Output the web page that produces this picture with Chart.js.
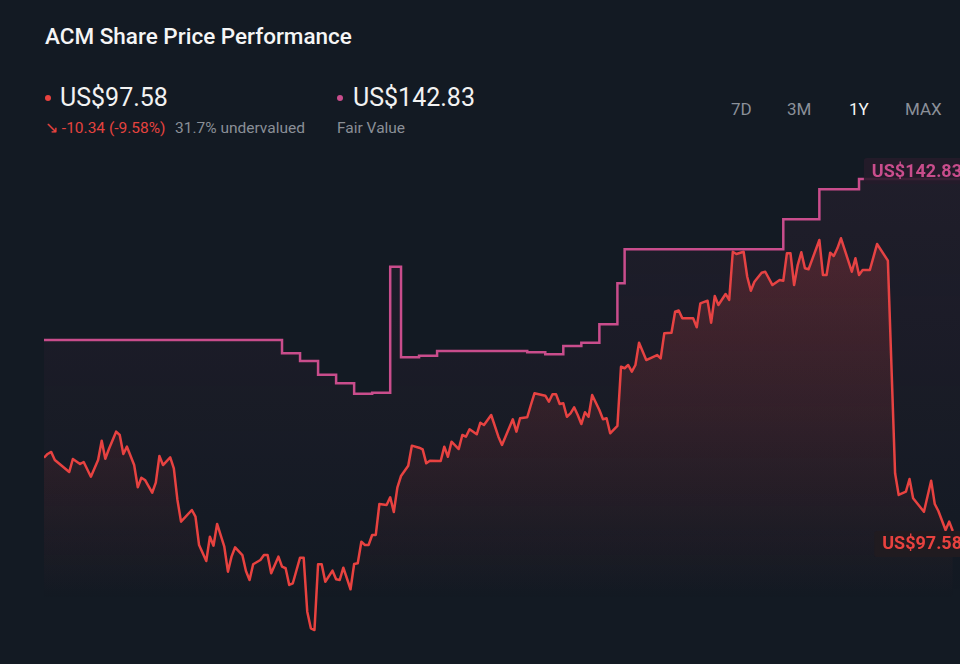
<!DOCTYPE html>
<html>
<head>
<meta charset="utf-8">
<title>ACM Share Price Performance</title>
<script src="https://cdn.jsdelivr.net/npm/chart.js@4.4.1/dist/chart.umd.min.js"></script>
<style>
  html, body { margin: 0; padding: 0; }
  body {
    width: 960px; height: 664px; overflow: hidden; position: relative;
    background: #131a23; font-family: Roboto, "Noto Sans", sans-serif; color: #f2f2f2;
  }
  .abs { position: absolute; white-space: nowrap; }
  .title { left: 45px; top: 23px; font-size: 22.5px; font-weight: 500; color: #f5f5f5; }
  .big { top: 83px; font-size: 25px; color: #f2f2f2; }
  .dot { width: 6px; height: 6px; border-radius: 50%; top: 95px; }
  .sub { top: 119px; font-size: 15.5px; color: #8a8f97; }
  .range { top: 99px; font-size: 17px; color: #8b9099; }
  #wrap { position: absolute; left: 44px; top: 150px; width: 916px; height: 500px; }
</style>
</head>
<body>
<div class="abs title">ACM Share Price Performance</div>

<div class="abs dot" style="left:45px;background:#e8423f"></div>
<div class="abs big" style="left:60px">US$97.58</div>
<div class="abs sub" style="left:45px;color:#e5433f">&#8600; -10.34 (-9.58%)</div>
<div class="abs sub" style="left:175px">31.7% undervalued</div>

<div class="abs dot" style="left:337px;background:#c94d8c"></div>
<div class="abs big" style="left:353px">US$142.83</div>
<div class="abs sub" style="left:337px">Fair Value</div>

<div class="abs range" style="left:731px">7D</div>
<div class="abs range" style="left:787px">3M</div>
<div class="abs range" style="left:849px;color:#f5f5f5">1Y</div>
<div class="abs range" style="left:905px">MAX</div>

<div id="wrap"><canvas id="chart"></canvas></div>

<script>
// trading day index (0 = one year ago) and closing price, US$
const days = [
  0, 1, 2, 3, 7, 8, 10, 11, 13, 15, 16, 17, 18, 20, 21, 22, 23, 25, 26, 27,
  28, 30, 31, 32, 33, 35, 36, 37, 38, 41, 42, 43, 45, 46, 47, 48, 50, 51, 52, 53,
  55, 56, 57, 58, 60, 61, 62, 63, 65, 66, 67, 68, 69, 71, 72, 73, 74, 75, 76, 77,
  78, 80, 81, 82, 83, 85, 86, 87, 88, 89, 90, 91, 92, 93, 95, 96, 97, 98, 99, 101,
  102, 104, 105, 106, 107, 110, 111, 112, 113, 115, 116, 117, 118, 120, 121, 122, 124, 126, 127, 130,
  131, 132, 134, 135, 136, 139, 140, 141, 142, 143, 144, 145, 146, 147, 148, 149, 150, 151, 152, 154,
  155, 156, 157, 159, 160, 161, 162, 163, 164, 165, 167, 170, 171, 172, 174, 175, 176, 177, 180, 181,
  182, 184, 185, 186, 187, 189, 190, 191, 192, 194, 195, 196, 197, 199, 200, 202, 204, 205, 206, 207,
  208, 209, 210, 211, 212, 215, 216, 217, 218, 219, 220, 221, 224, 225, 226, 227, 229, 231, 234, 236,
  237, 239, 240, 241, 244, 246, 247, 248, 250, 251, 252
];
const prices = [
  107.00, 107.48, 107.74, 106.71, 105.16, 106.84, 106.19, 106.45, 104.56, 106.71,
  109.19, 106.87, 108.12, 110.35, 109.92, 107.48, 108.42, 106.06, 103.20, 104.43,
  104.14, 102.50, 103.79, 107.22, 106.06, 107.05, 105.64, 101.57, 98.78, 100.28,
  99.42, 95.78, 93.72, 96.85, 95.69, 98.48, 95.56, 92.35, 94.28, 95.48,
  94.49, 92.44, 91.28, 93.30, 93.85, 94.49, 94.49, 92.14, 94.28, 92.99,
  92.79, 90.64, 90.86, 94.15, 94.15, 87.21, 85.07, 84.85, 93.30, 93.30,
  91.06, 92.48, 91.37, 91.28, 92.86, 90.09, 93.34, 93.43, 96.20, 95.78,
  95.78, 97.07, 97.07, 101.05, 100.92, 101.91, 100.02, 103.20, 104.65, 105.97,
  108.55, 108.29, 108.08, 106.28, 106.62, 106.58, 108.42, 107.13, 109.06, 108.12,
  109.92, 109.70, 110.65, 110.01, 111.50, 111.21, 112.49, 109.70, 108.64, 111.94,
  110.35, 112.07, 112.20, 113.78, 115.28, 114.97, 114.20, 115.15, 115.15, 113.91,
  114.00, 112.27, 112.71, 113.48, 112.49, 111.33, 112.84, 112.27, 115.06, 113.13,
  111.94, 112.07, 110.14, 111.08, 118.70, 118.50, 118.92, 118.06, 118.92, 121.79,
  119.56, 120.20, 119.78, 122.99, 123.07, 125.77, 125.93, 124.92, 124.92, 123.77,
  126.85, 127.19, 124.36, 127.79, 126.63, 128.05, 127.28, 133.48, 133.19, 133.48,
  130.27, 128.47, 129.63, 130.78, 130.91, 129.20, 129.85, 129.76, 133.28, 133.28,
  129.20, 131.77, 133.41, 131.35, 131.22, 134.99, 130.49, 130.49, 133.36, 132.93,
  133.92, 135.21, 130.91, 132.64, 130.49, 131.13, 131.13, 134.47, 132.33, 105.00,
  102.21, 102.63, 104.26, 101.78, 100.06, 104.05, 101.05, 100.15, 97.71, 98.78,
  97.58
];

// fair value estimate: each value holds from its day until the next change
const fairDays = [0, 66, 71, 76, 81, 86, 91, 96, 99, 104, 109, 134, 139, 144, 149, 154, 159, 161, 205, 215, 226, 254];
const fairValues = [
  122.13, 120.42, 119.43, 117.67, 116.57, 115.23, 115.36, 131.56, 119.91, 120.11,
  120.72, 120.55, 120.29, 121.36, 121.79, 124.15, 129.42, 133.79, 137.65, 141.51,
  142.83, 142.83
];

const priceLabel = 'US$97.58';
const fairLabel = 'US$142.83';

const RED = '#e8423f';
const PINK = '#c94d8c';

function verticalGradient(ctx, area, stops) {
  const g = ctx.createLinearGradient(0, area.top, 0, area.bottom);
  stops.forEach(s => g.addColorStop(s[0], s[1]));
  return g;
}

// boxes with the latest value at the right end of each line
const endLabels = {
  id: 'endLabels',
  afterDatasetsDraw(chart) {
    const ctx = chart.ctx;
    const right = chart.chartArea.right;
    const items = [
      { meta: chart.getDatasetMeta(0), text: fairLabel, color: PINK, bg: 'rgba(38,27,42,0.88)', dy: -8 },
      { meta: chart.getDatasetMeta(1), text: priceLabel, color: RED, bg: 'rgba(34,27,33,0.92)', dy: 13 }
    ];
    ctx.save();
    ctx.font = 'bold 18px Roboto, "Noto Sans", sans-serif';
    ctx.textBaseline = 'middle';
    ctx.textAlign = 'right';
    items.forEach(it => {
      const pt = it.meta.data[it.meta.data.length - 1];
      const cy = pt.y + it.dy;
      const w = ctx.measureText(it.text).width + 8;
      ctx.fillStyle = it.bg;
      ctx.beginPath();
      ctx.roundRect(right - w + 2, cy - 13, w + 4, 26, 3);
      ctx.fill();
      ctx.fillStyle = it.color;
      ctx.fillText(it.text, right + 2, cy + 1);
    });
    ctx.restore();
  }
};

const canvas = document.getElementById('chart');
new Chart(canvas.getContext('2d'), {
  type: 'line',
  data: {
    datasets: [
      {
        label: 'Fair Value',
        data: fairDays.map((d, i) => ({ x: d, y: fairValues[i] })),
        stepped: true,
        borderColor: PINK,
        borderWidth: 2.5,
        pointRadius: 0,
        fill: 'start',
        backgroundColor: c => {
          const area = c.chart.chartArea;
          if (!area) return 'transparent';
          return verticalGradient(c.chart.ctx, area, [[0, 'rgba(201,77,140,0.08)'], [0.9, 'rgba(201,77,140,0)']]);
        }
      },
      {
        label: 'Share Price',
        data: days.map((d, i) => ({ x: d, y: prices[i] })),
        borderColor: RED,
        borderWidth: 2.5,
        borderJoinStyle: 'round',
        pointRadius: 0,
        tension: 0,
        fill: 'start',
        backgroundColor: c => {
          const area = c.chart.chartArea;
          if (!area) return 'transparent';
          return verticalGradient(c.chart.ctx, area, [[0, 'rgba(232,66,63,0.28)'], [0.5, 'rgba(232,66,63,0.13)'], [0.9, 'rgba(232,66,63,0)']]);
        }
      }
    ]
  },
  options: {
    responsive: true,
    maintainAspectRatio: false,
    animation: false,
    layout: { padding: 0 },
    scales: {
      x: { type: 'linear', min: 0, max: 254, display: false },
      y: { min: 82.28, max: 146.56, display: false }
    },
    plugins: {
      legend: { display: false },
      tooltip: { enabled: false }
    }
  },
  plugins: [endLabels]
});
</script>
</body>
</html>
